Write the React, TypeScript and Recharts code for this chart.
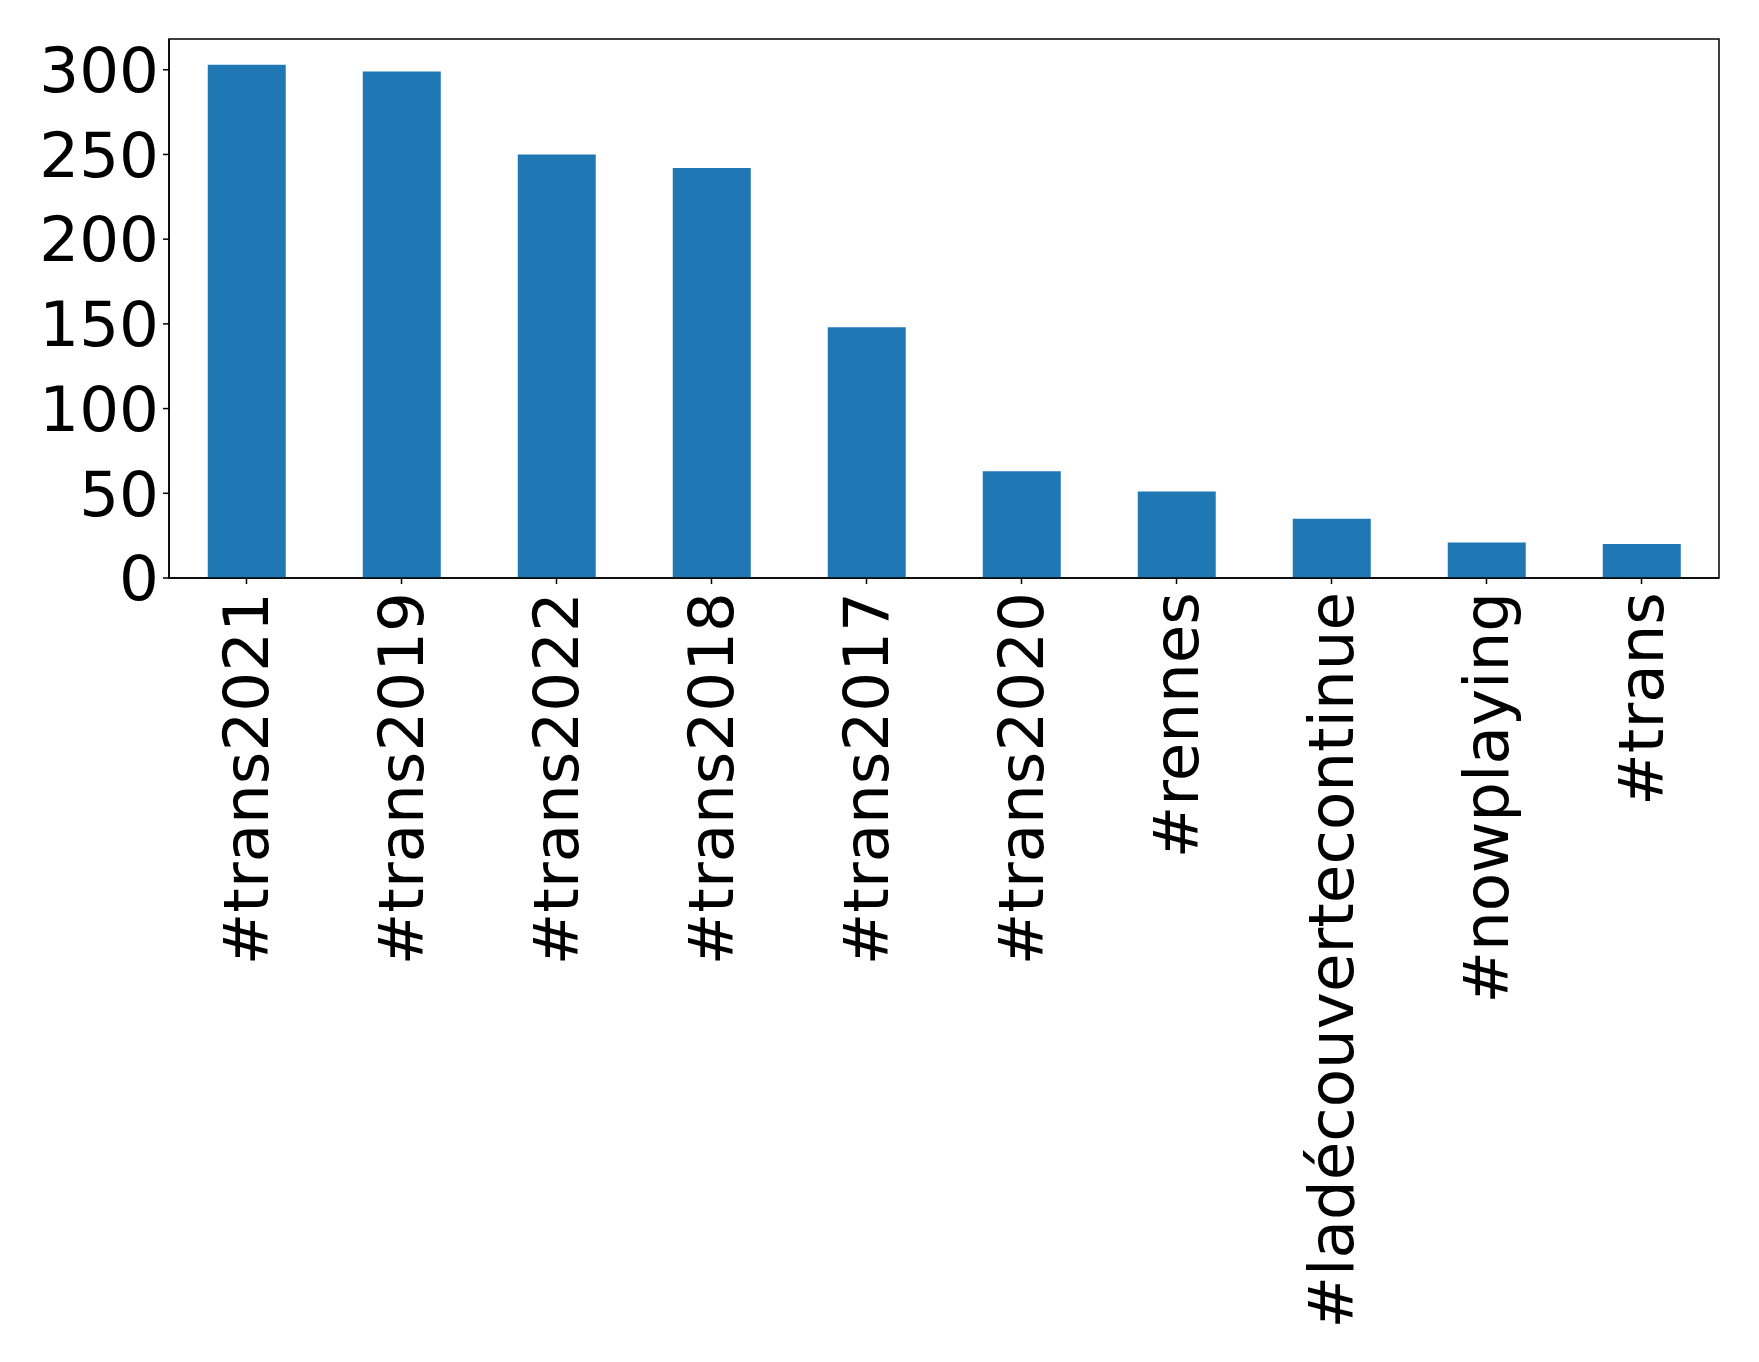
import { BarChart, Bar, XAxis, YAxis, ReferenceArea } from 'recharts';

const TAGS = [
  '#trans2021',
  '#trans2019',
  '#trans2022',
  '#trans2018',
  '#trans2017',
  '#trans2020',
  '#rennes',
  '#ladécouvertecontinue',
  '#nowplaying',
  '#trans',
];
const COUNTS = [303, 299, 250, 242, 148, 63, 51, 35, 21, 20];
const Y_TICKS = [0, 50, 100, 150, 200, 250, 300];

const data = TAGS.map((tag, i) => ({ tag, count: COUNTS[i] }));
const yMax = Math.max(...COUNTS) * 1.05;

const FONT = '"DejaVu Sans", sans-serif';
const FONT_SIZE = 62.7;

const XTick = ({ x, y, payload }: { x?: number; y?: number; payload?: { value: string } }) => (
  <text
    x={x}
    y={y}
    transform={`rotate(-90 ${x} ${y})`}
    textAnchor="end"
    dominantBaseline="central"
    fill="#000"
    fontSize={FONT_SIZE}
    fontFamily={FONT}
  >
    {payload?.value}
  </text>
);

export default function App() {
  return (
    <div style={{ position: 'absolute', left: 0, top: 0, width: 1759, height: 1362, background: '#fff' }}>
      <BarChart
        width={1759}
        height={1362}
        data={data}
        margin={{ top: 39, right: 40, bottom: 0, left: 0 }}
        barCategoryGap="25%"
      >
        <XAxis
          dataKey="tag"
          interval={0}
          height={784}
          tick={<XTick />}
          tickSize={6}
          tickMargin={8}
          axisLine={{ stroke: '#000', strokeWidth: 1.5 }}
          tickLine={{ stroke: '#000', strokeWidth: 1.5 }}
        />
        <YAxis
          width={169}
          domain={[0, yMax]}
          ticks={Y_TICKS}
          tickSize={6}
          tickMargin={4}
          tick={{ fill: '#000', fontSize: FONT_SIZE, fontFamily: FONT }}
          axisLine={{ stroke: '#000', strokeWidth: 1.5 }}
          tickLine={{ stroke: '#000', strokeWidth: 1.5 }}
        />
        <Bar dataKey="count" fill="#1f77b4" isAnimationActive={false} />
        {/* frame around the plot area, like matplotlib's four spines */}
        <ReferenceArea y1={0} y2={yMax} fill="none" stroke="#000" strokeWidth={1.5} ifOverflow="visible" />
      </BarChart>
    </div>
  );
}
